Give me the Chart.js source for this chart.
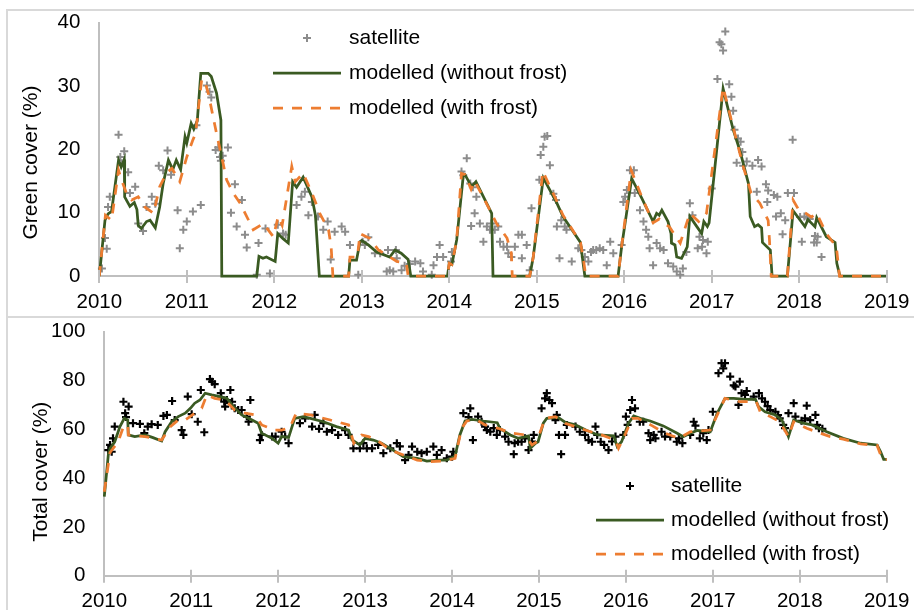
<!DOCTYPE html>
<html>
<head>
<meta charset="utf-8">
<title>Green and total cover, 2010-2019</title>
<script src="https://cdn.jsdelivr.net/npm/chart.js@4/dist/chart.umd.min.js"></script>
<style>
  html, body { margin: 0; padding: 0; background: #fff; }
  #wrap { position: relative; width: 914px; height: 610px; overflow: hidden; }
  .frame { position: absolute; border: 2px solid #d9d9d9; border-right: none; box-sizing: border-box; }
  canvas { position: absolute; left: 0; }
</style>
</head>
<body>
<div id="wrap">
  <div class="frame" style="left:6px; top:9px; width:910px; height:309px;"></div>
  <div class="frame" style="left:6px; top:316px; width:910px; height:300px;"></div>
  <canvas id="greenChart" width="914" height="316" style="top:0;"></canvas>
  <canvas id="totalChart" width="914" height="294" style="top:316px;"></canvas>
</div>
<script>
// ---------- data: [decimal year, cover %] ----------
const yearTicks = [2010, 2011, 2012, 2013, 2014, 2015, 2016, 2017, 2018, 2019];
const seriesNames = ['satellite', 'modelled (without frost)', 'modelled (with frost)'];

// Green cover, satellite observations
const greenSatellite = [
  [2010.03,1.2],[2010.065,6.0],[2010.085,4.3],[2010.10,10.9],[2010.12,12.5],
  [2010.22,22.3],[2010.24,18.8],[2010.255,17.8],[2010.285,19.7],[2010.33,16.4],[2010.35,13.1],[2010.41,14.1],
  [2010.445,8.3],[2010.50,7.1],[2010.54,10.9],[2010.60,12.5],[2010.64,11.4],
  [2010.68,17.4],[2010.73,16.7],[2010.78,19.8],[2010.82,16.0],
  [2010.895,10.4],[2010.92,4.4],[2010.96,7.3],[2011.0,8.6],[2011.07,10.2],[2011.16,11.2],
  [2011.11,23.8],[2011.23,30.1],[2011.26,29.1],[2011.28,28.2],
  [2011.33,19.9],[2011.36,20.3],[2011.38,18.8],[2011.39,18.2],[2011.41,19.0],[2011.47,20.3],
  [2011.505,10.0],[2011.55,14.5],[2011.57,7.8],[2011.63,12.0],[2011.665,6.5],[2011.685,4.5],
  [2011.80,0.2],[2011.82,5.2],[2011.90,7.5],[2011.95,0.4],[2012.04,8.1],[2012.10,6.7],[2012.13,6.5],
  [2012.255,11.2],[2012.31,12.5],[2012.35,13.3],[2012.39,9.6],[2012.43,11.7],[2012.50,9.4],[2012.56,7.3],
  [2012.61,8.6],[2012.645,2.6],[2012.69,7.0],[2012.77,7.8],[2012.81,7.0],[2012.865,4.9],
  [2012.96,0.2],[2013.01,5.4],[2013.035,4.9],[2013.075,6.1],[2013.15,3.6],[2013.21,3.6],[2013.30,4.1],
  [2013.285,0.7],[2013.32,0.9],[2013.36,0.7],[2013.40,2.8],[2013.39,4.1],[2013.455,0.9],[2013.49,1.6],
  [2013.55,1.9],[2013.61,2.3],[2013.67,2.0],[2013.70,0.7],[2013.80,0.2],[2013.82,1.7],[2013.86,3.0],
  [2013.89,4.9],[2013.93,3.0],[2014.02,2.3],[2014.03,3.8],
  [2014.14,16.5],[2014.16,15.9],[2014.20,18.6],[2014.24,14.6],[2014.27,14.0],[2014.25,7.9],[2014.29,9.9],
  [2014.31,12.5],[2014.35,8.3],[2014.39,5.4],[2014.43,7.8],[2014.465,7.3],[2014.48,8.3],[2014.52,7.3],
  [2014.56,7.8],[2014.58,5.4],[2014.62,4.6],[2014.66,4.6],[2014.675,3.6],[2014.71,3.0],[2014.75,4.6],
  [2014.79,6.5],[2014.83,6.5],[2014.83,2.8],[2014.885,4.9],[2014.92,0.9],[2014.94,10.7],
  [2015.03,15.2],[2015.045,19.1],[2015.075,20.4],[2015.09,22.0],[2015.12,22.1],[2015.15,17.5],[2015.19,13.0],
  [2015.22,12.0],[2015.23,7.8],[2015.26,2.8],[2015.28,8.8],[2015.32,7.8],[2015.34,7.3],[2015.40,2.3],
  [2015.475,4.4],[2015.51,4.1],[2015.55,3.0],[2015.59,2.3],[2015.62,3.8],[2015.645,4.1],[2015.68,4.1],
  [2015.72,4.4],[2015.76,4.1],[2015.80,1.7],[2015.84,5.4],[2015.875,3.6],[2015.97,4.9],
  [2015.99,11.7],[2016.01,12.5],[2016.03,13.6],[2016.065,16.7],[2016.11,16.7],[2016.12,13.1],[2016.18,10.4],
  [2016.22,8.6],[2016.25,7.3],[2016.275,6.2],[2016.29,4.4],[2016.33,1.7],[2016.37,5.2],[2016.41,4.4],
  [2016.45,4.1],[2016.50,2.0],[2016.56,1.5],[2016.60,0.7],[2016.64,0.2],[2016.67,1.2],[2016.71,3.8],
  [2016.75,11.5],[2016.78,9.6],[2016.84,4.4],[2016.86,6.2],[2016.89,4.6],[2016.90,5.7],[2016.94,3.6],[2016.955,5.4],
  [2017.0,13.8],[2017.065,31.1],[2017.09,36.9],[2017.11,36.6],[2017.13,35.6],[2017.155,38.6],[2017.20,30.3],
  [2017.225,28.3],[2017.245,26.1],[2017.26,23.1],[2017.30,21.7],[2017.33,21.2],[2017.35,19.6],[2017.285,17.9],
  [2017.36,17.4],[2017.40,18.1],[2017.465,17.4],[2017.53,18.3],[2017.57,17.3],[2017.515,13.3],[2017.62,14.5],
  [2017.645,13.5],[2017.635,11.7],[2017.71,12.8],[2017.75,12.5],[2017.735,9.4],[2017.79,9.9],[2017.81,6.6],
  [2017.84,8.8],[2017.87,13.1],[2017.94,13.1],[2017.925,21.5],
  [2018.01,9.3],[2018.03,5.4],[2018.06,9.4],[2018.09,9.2],[2018.12,9.0],[2018.17,5.3],[2018.18,6.3],
  [2018.21,6.2],[2018.20,5.3],[2018.255,3.0]
];

// Green cover, model without frost
const greenNoFrost = [
  [2010.0,0],[2010.065,8.8],[2010.10,9.8],[2010.14,10.2],[2010.22,18.3],[2010.25,17.2],[2010.285,18.4],
  [2010.29,12.5],[2010.35,11.0],[2010.40,11.6],[2010.43,10.5],[2010.445,8.0],[2010.48,7.5],[2010.54,8.6],
  [2010.58,8.8],[2010.64,7.6],[2010.69,10.9],[2010.73,14.6],[2010.79,18.3],[2010.84,16.8],[2010.88,18.3],
  [2010.93,16.8],[2010.98,22.0],[2011.0,21.0],[2011.05,24.1],[2011.08,23.2],[2011.12,24.5],[2011.16,32.0],
  [2011.245,32.0],[2011.28,31.5],[2011.34,28.9],[2011.39,24.6],[2011.40,0],[2011.80,0],[2011.825,3.1],
  [2011.87,2.8],[2011.91,3.0],[2012.01,2.3],[2012.04,6.7],[2012.10,5.9],[2012.16,5.2],[2012.21,14.9],
  [2012.255,14.0],[2012.33,15.6],[2012.43,12.5],[2012.47,9.6],[2012.515,0],[2012.85,0],[2012.865,2.5],
  [2012.94,2.5],[2012.98,5.4],[2013.0,5.6],[2013.075,4.9],[2013.17,3.8],[2013.32,3.0],[2013.38,4.1],
  [2013.45,3.6],[2013.53,2.6],[2013.56,0],[2013.98,0],[2014.0,2.0],[2014.03,1.8],[2014.085,5.7],
  [2014.16,15.8],[2014.18,16.0],[2014.255,14.1],[2014.305,14.9],[2014.485,9.9],[2014.50,0],[2014.92,0],
  [2014.96,3.0],[2015.075,15.5],[2015.23,11.5],[2015.30,9.4],[2015.50,5.3],[2015.53,2.0],[2015.55,0],
  [2015.93,0],[2015.97,4.6],[2016.085,15.4],[2016.20,12.3],[2016.33,8.6],[2016.37,9.9],[2016.40,9.6],
  [2016.43,10.4],[2016.50,8.6],[2016.535,6.7],[2016.54,5.2],[2016.58,4.9],[2016.60,3.0],[2016.655,2.8],
  [2016.72,4.6],[2016.75,9.4],[2016.83,7.8],[2016.885,6.7],[2016.91,8.6],[2016.95,7.8],[2016.97,8.4],
  [2017.13,29.6],[2017.245,23.1],[2017.32,19.9],[2017.42,14.6],[2017.44,9.4],[2017.49,7.8],[2017.53,8.1],
  [2017.57,7.6],[2017.58,5.3],[2017.67,4.1],[2017.69,0],[2017.865,0],[2017.93,10.3],[2018.065,7.8],
  [2018.10,8.9],[2018.18,7.8],[2018.20,9.2],[2018.31,6.2],[2018.41,5.3],[2018.43,2.0],[2018.465,0],[2019.0,0]
];

// Green cover, model with frost
const greenFrost = [
  [2010.0,0],[2010.07,9.6],[2010.14,8.8],[2010.22,16.7],[2010.25,15.3],[2010.31,13.1],[2010.37,12.0],
  [2010.445,12.5],[2010.52,10.9],[2010.62,9.9],[2010.69,14.1],[2010.77,16.3],[2010.83,17.0],[2010.92,14.9],
  [2011.0,18.8],[2011.07,21.5],[2011.10,22.5],[2011.17,31.0],[2011.20,31.0],[2011.245,28.9],[2011.30,25.2],
  [2011.34,22.5],[2011.39,19.4],[2011.455,15.2],[2011.53,13.1],[2011.61,11.5],[2011.76,7.3],[2011.875,8.3],
  [2011.99,6.2],[2012.045,9.4],[2012.09,8.0],[2012.20,17.3],[2012.24,14.9],[2012.33,16.2],[2012.43,13.1],
  [2012.52,9.9],[2012.62,7.3],[2012.65,4.6],[2012.67,0],[2012.85,0],[2012.865,3.0],[2012.95,3.0],
  [2012.98,6.7],[2013.095,5.9],[2013.19,4.1],[2013.32,3.0],[2013.40,2.3],[2013.51,2.0],[2013.53,0],
  [2013.98,0],[2014.0,2.0],[2014.03,1.8],[2014.085,5.7],[2014.14,16.2],[2014.18,16.0],[2014.25,13.7],
  [2014.29,15.0],[2014.465,10.4],[2014.54,8.3],[2014.66,6.0],[2014.71,3.6],[2014.72,0],[2014.92,0],
  [2014.96,3.0],[2015.07,16.5],[2015.23,11.8],[2015.30,9.6],[2015.50,5.3],[2015.54,2.0],[2015.56,0],
  [2015.93,0],[2015.97,4.6],[2016.08,16.7],[2016.20,12.5],[2016.33,8.4],[2016.40,9.0],[2016.52,7.7],
  [2016.64,5.2],[2016.75,9.9],[2016.85,8.6],[2016.94,9.9],[2017.13,29.8],[2017.245,23.5],[2017.36,17.3],
  [2017.45,13.1],[2017.55,11.5],[2017.645,8.8],[2017.66,5.7],[2017.68,0],[2017.865,0],[2017.93,12.0],
  [2018.0,10.3],[2018.075,9.9],[2018.14,9.3],[2018.20,9.9],[2018.31,6.7],[2018.425,4.6],[2018.46,0],[2019.0,0]
];

// Total cover, satellite observations
const totalSatellite = [
  [2010.046,51.5],[2010.066,53.6],[2010.085,50.8],[2010.10,56.3],[2010.12,61.1],
  [2010.22,71.3],[2010.24,66.6],[2010.25,65.0],[2010.28,69.3],[2010.33,62.5],[2010.41,62.2],[2010.46,58.4],
  [2010.50,61.1],[2010.545,62.1],[2010.615,61.8],[2010.68,65.5],[2010.72,65.9],[2010.78,71.6],[2010.81,63.8],
  [2010.89,59.7],[2010.91,57.7],[2010.96,73.4],[2011.005,66.2],[2011.075,63.1],[2011.11,76.1],[2011.15,58.8],
  [2011.215,80.6],[2011.24,79.5],[2011.27,78.5],[2011.34,74.8],[2011.345,73.0],[2011.38,71.3],[2011.39,69.3],
  [2011.41,72.0],[2011.45,76.1],[2011.47,71.3],[2011.50,68.6],[2011.54,67.9],[2011.58,67.9],[2011.64,65.2],
  [2011.66,63.1],[2011.68,72.0],
  [2011.79,55.6],[2011.81,57.7],[2011.93,57.0],[2011.97,57.0],[2012.04,59.0],[2012.08,57.0],[2012.12,54.3],
  [2012.25,62.5],[2012.31,64.5],[2012.42,65.9],[2012.39,61.1],[2012.47,60.2],[2012.52,62.5],[2012.56,59.0],
  [2012.62,59.7],[2012.69,57.7],[2012.77,59.7],[2012.81,57.7],[2012.865,52.2],
  [2012.94,52.2],[2012.98,54.3],[2013.02,52.2],[2013.08,52.2],[2013.15,53.6],[2013.21,50.2],[2013.29,52.2],
  [2013.365,54.3],[2013.40,53.0],[2013.46,47.4],[2013.50,49.5],[2013.54,52.9],[2013.60,50.8],[2013.65,50.2],
  [2013.71,50.8],[2013.785,52.9],[2013.825,49.5],[2013.88,51.5],[2013.94,48.1],[2014.0,48.8],[2014.015,50.8],
  [2014.13,66.6],[2014.19,65.0],[2014.21,68.6],[2014.24,55.6],[2014.30,65.2],[2014.34,63.1],[2014.38,61.1],
  [2014.40,59.7],[2014.44,59.0],[2014.48,60.5],[2014.515,57.7],[2014.55,59.7],[2014.61,57.0],[2014.65,54.9],
  [2014.71,49.8],[2014.72,54.3],[2014.76,54.9],[2014.80,54.9],[2014.84,56.3],[2014.88,51.5],[2014.92,55.0],
  [2014.94,57.7],
  [2015.03,68.6],[2015.07,72.7],[2015.09,74.8],[2015.12,72.0],[2015.15,70.7],[2015.19,63.8],[2015.205,65.9],
  [2015.23,57.7],[2015.255,49.8],[2015.30,57.7],[2015.32,61.8],[2015.42,61.1],[2015.47,59.0],[2015.53,57.7],
  [2015.57,55.6],[2015.61,54.9],[2015.65,61.1],[2015.67,57.7],[2015.71,54.9],[2015.75,53.6],[2015.80,51.5],
  [2015.84,55.0],[2015.88,57.0],
  [2015.97,57.7],[2016.0,65.2],[2016.02,61.8],[2016.05,67.9],[2016.07,72.0],[2016.105,68.6],[2016.16,63.1],
  [2016.20,63.1],[2016.26,58.4],[2016.28,55.6],[2016.32,57.7],[2016.34,56.3],[2016.41,59.0],[2016.45,57.0],
  [2016.51,57.0],[2016.585,54.9],[2016.61,56.3],[2016.65,54.3],[2016.74,57.7],[2016.78,63.1],[2016.80,61.5],
  [2016.85,56.3],[2016.89,58.4],[2016.93,55.6],[2016.95,59.7],
  [2017.0,67.2],[2017.065,83.0],[2017.10,87.1],[2017.12,85.0],[2017.14,87.1],[2017.20,81.6],[2017.24,78.0],
  [2017.26,77.5],[2017.31,79.5],[2017.33,74.8],[2017.295,70.0],[2017.37,74.1],[2017.39,75.7],[2017.47,73.4],
  [2017.53,74.8],[2017.565,72.7],[2017.60,71.3],[2017.63,69.5],[2017.66,67.9],[2017.72,67.2],[2017.75,65.8],
  [2017.77,64.5],[2017.81,61.8],[2017.83,60.5],[2017.87,66.6],[2017.93,70.7],[2017.95,65.2],[2018.02,63.5],
  [2018.06,64.5],[2018.08,69.7],[2018.12,63.8],[2018.18,65.9],[2018.20,61.8],[2018.22,60.4],[2018.26,60.2]
];

// Total cover, model without frost
const totalNoFrost = [
  [2010.0,32.4],[2010.046,49.5],[2010.066,52.2],[2010.12,54.9],[2010.18,61.1],[2010.23,64.5],[2010.27,63.8],
  [2010.276,57.7],[2010.35,57.0],[2010.47,57.7],[2010.56,56.6],[2010.66,55.2],[2010.70,59.0],[2010.775,63.1],
  [2010.85,65.2],[2010.93,66.6],[2010.99,68.6],[2011.04,70.7],[2011.10,72.0],[2011.16,74.8],[2011.235,74.1],
  [2011.33,73.4],[2011.41,72.7],[2011.47,70.0],[2011.58,65.9],[2011.70,63.8],[2011.77,62.5],[2011.81,58.4],
  [2011.93,56.3],[2012.0,54.3],[2012.04,57.0],[2012.12,56.6],[2012.19,64.5],[2012.29,65.2],[2012.37,64.5],
  [2012.52,63.1],[2012.67,61.1],[2012.81,59.7],[2012.85,55.6],[2012.94,53.6],[2013.0,56.3],[2013.095,55.6],
  [2013.19,54.3],[2013.29,52.2],[2013.44,48.8],[2013.60,48.1],[2013.71,47.0],[2013.825,47.4],[2013.94,47.4],
  [2014.035,49.0],[2014.09,57.7],[2014.15,63.4],[2014.23,64.1],[2014.36,63.4],[2014.52,62.7],[2014.55,60.4],
  [2014.67,57.7],[2014.76,56.3],[2014.88,57.3],[2014.90,52.2],[2014.96,54.3],[2014.99,54.9],[2015.05,62.5],
  [2015.09,64.5],[2015.22,64.9],[2015.30,62.9],[2015.42,61.8],[2015.55,59.5],[2015.68,57.7],[2015.86,57.3],
  [2015.90,52.9],[2015.95,54.9],[2016.03,62.5],[2016.09,65.5],[2016.165,64.5],[2016.28,63.4],[2016.43,61.4],
  [2016.59,58.4],[2016.66,57.0],[2016.74,58.4],[2016.82,59.5],[2016.97,59.0],[2017.05,66.6],[2017.14,72.7],
  [2017.24,72.7],[2017.37,72.3],[2017.49,72.3],[2017.525,69.3],[2017.60,67.2],[2017.72,65.9],[2017.795,63.8],
  [2017.87,57.0],[2017.93,63.8],[2018.04,62.5],[2018.14,61.8],[2018.31,59.0],[2018.50,56.3],[2018.70,54.3],
  [2018.89,53.6],[2018.93,50.8],[2018.965,47.7],[2019.0,47.7]
];

// Total cover, model with frost
const totalFrost = [
  [2010.0,34.4],[2010.066,50.5],[2010.16,54.9],[2010.22,61.1],[2010.27,61.8],[2010.276,57.7],[2010.47,57.0],
  [2010.66,55.6],[2010.76,61.1],[2010.85,63.8],[2010.93,63.8],[2011.04,66.6],[2011.12,68.6],[2011.18,74.1],
  [2011.27,72.7],[2011.39,72.0],[2011.50,67.9],[2011.62,66.6],[2011.73,65.9],[2011.81,61.8],[2011.96,59.7],
  [2012.04,59.7],[2012.135,60.7],[2012.19,65.2],[2012.21,66.6],[2012.37,65.9],[2012.60,63.8],[2012.81,61.8],
  [2012.87,54.3],[2012.96,57.7],[2013.04,57.0],[2013.135,55.6],[2013.29,51.5],[2013.44,49.5],[2013.60,47.4],
  [2013.75,46.7],[2013.90,47.0],[2014.035,48.1],[2014.11,60.4],[2014.17,63.4],[2014.285,63.8],[2014.38,61.8],
  [2014.53,60.4],[2014.69,58.4],[2014.84,57.7],[2014.92,53.6],[2014.975,54.9],[2015.07,64.5],[2015.19,65.2],
  [2015.30,62.5],[2015.53,59.7],[2015.72,57.7],[2015.88,55.6],[2015.915,52.2],[2015.99,57.7],[2016.07,64.5],
  [2016.14,64.5],[2016.30,61.5],[2016.45,58.4],[2016.61,56.3],[2016.74,59.0],[2016.97,59.7],[2017.14,72.7],
  [2017.31,71.3],[2017.50,71.3],[2017.545,67.2],[2017.66,65.2],[2017.77,63.1],[2017.87,57.0],[2017.93,63.1],
  [2018.08,60.4],[2018.35,57.0],[2018.50,56.0],[2018.70,54.0],[2018.81,53.6],[2018.89,53.4],[2018.93,49.5],
  [2018.965,47.4],[2019.0,47.7]
];

// ---------- styling ----------
const FONT = '"Liberation Sans", Arial, sans-serif';
const AXIS = '#bfbfbf';
const GREEN = '#3a5a22';
const ORANGE = '#ed7d31';
const toXY = pts => pts.map(p => ({ x: p[0], y: p[1] }));

// Tick marks that cross the x axis, at each labelled year
const crossTicks = {
  id: 'crossTicks',
  afterDraw(chart) {
    const { ctx, chartArea } = chart;
    const xs = chart.scales.x;
    ctx.save();
    ctx.strokeStyle = AXIS;
    ctx.lineWidth = 2;
    xs.ticks.forEach(t => {
      const px = Math.round(xs.getPixelForValue(t.value));
      ctx.beginPath();
      ctx.moveTo(px, chartArea.bottom - 6);
      ctx.lineTo(px, chartArea.bottom + 7);
      ctx.stroke();
    });
    ctx.restore();
  }
};

// Axis title and in-plot legend for one panel
function panelDecor(cfg) {
  return {
    id: 'panelDecor',
    afterDraw(chart) {
      const ctx = chart.ctx;
      ctx.save();
      ctx.fillStyle = '#000';
      ctx.font = '21px ' + FONT;
      ctx.textBaseline = 'middle';
      // y-axis title
      ctx.save();
      ctx.translate(cfg.titleX, cfg.titleY);
      ctx.rotate(-Math.PI / 2);
      ctx.textAlign = 'center';
      ctx.fillText(cfg.title, 0, 0);
      ctx.restore();
      // legend
      const L = cfg.legend;
      ctx.textAlign = 'left';
      // satellite marker
      const mx = (L.x0 + L.x1) / 2;
      ctx.strokeStyle = cfg.satColor;
      ctx.lineWidth = 2;
      ctx.beginPath();
      ctx.moveTo(mx - 4, L.y); ctx.lineTo(mx + 4, L.y);
      ctx.moveTo(mx, L.y - 4); ctx.lineTo(mx, L.y + 4);
      ctx.stroke();
      ctx.fillText(seriesNames[0], L.tx, L.y);
      // without frost
      ctx.strokeStyle = GREEN;
      ctx.lineWidth = 2.75;
      ctx.beginPath();
      ctx.moveTo(L.x0, L.y + L.dy); ctx.lineTo(L.x1, L.y + L.dy);
      ctx.stroke();
      ctx.fillText(seriesNames[1], L.tx, L.y + L.dy);
      // with frost
      ctx.strokeStyle = ORANGE;
      ctx.setLineDash([10, 9]);
      ctx.beginPath();
      ctx.moveTo(L.x0, L.y + 2 * L.dy); ctx.lineTo(L.x1, L.y + 2 * L.dy);
      ctx.stroke();
      ctx.setLineDash([]);
      ctx.fillText(seriesNames[2], L.tx, L.y + 2 * L.dy);
      ctx.restore();
    }
  };
}

function makePanel(canvasId, opts) {
  return new Chart(document.getElementById(canvasId), {
    type: 'scatter',
    data: {
      datasets: [
        {
          label: seriesNames[2], data: toXY(opts.frost), showLine: true,
          borderColor: ORANGE, borderWidth: 2.75, borderDash: [10, 9],
          pointRadius: 0, tension: 0, clip: false
        },
        {
          label: seriesNames[1], data: toXY(opts.noFrost), showLine: true,
          borderColor: GREEN, borderWidth: 2.75,
          pointRadius: 0, tension: 0, clip: false
        },
        {
          label: seriesNames[0], data: toXY(opts.satellite), showLine: false,
          pointStyle: 'cross', pointRadius: 4, pointBorderWidth: opts.satWidth,
          borderColor: opts.satColor, backgroundColor: opts.satColor, clip: false
        }
      ]
    },
    options: {
      responsive: false,
      animation: false,
      events: [],
      layout: { padding: opts.padding, autoPadding: false },
      plugins: { legend: { display: false }, tooltip: { enabled: false } },
      scales: {
        x: {
          type: 'linear', min: yearTicks[0], max: yearTicks[yearTicks.length - 1],
          afterBuildTicks: s => { s.ticks = yearTicks.map(v => ({ value: v })); },
          ticks: {
            callback: v => String(v), color: '#000', maxRotation: 0, autoSkip: false,
            font: { family: FONT, size: 20.5 }, padding: 0
          },
          grid: { display: false, drawTicks: true, tickLength: opts.xLabelPad },
          border: { display: true, color: AXIS, width: 2 },
          afterFit: s => { s.height = opts.xHeight; }
        },
        y: {
          min: opts.yMin, max: opts.yMax,
          ticks: { stepSize: opts.yStep, color: '#000', font: { family: FONT, size: 20.5 }, padding: 0 },
          grid: { display: false, drawTicks: true, tickLength: 19 },
          border: { display: true, color: AXIS, width: 2 },
          afterFit: s => { s.width = opts.yWidth; }
        }
      }
    },
    plugins: [crossTicks, panelDecor(opts.decor)]
  });
}

// Upper panel: green cover
makePanel('greenChart', {
  satellite: greenSatellite, noFrost: greenNoFrost, frost: greenFrost,
  satColor: '#8c8c8c', satWidth: 2,
  padding: { left: 0, right: 27.3, top: 22.7, bottom: 0 },
  xHeight: 40, yWidth: 99.3, xLabelPad: 14,
  yMin: 0, yMax: 40, yStep: 10,
  decor: {
    title: 'Green cover (%)', titleX: 31, titleY: 162.5,
    satColor: '#8c8c8c',
    legend: { x0: 273, x1: 341, tx: 349, y: 38, dy: 35 }
  }
});

// Lower panel: total cover
makePanel('totalChart', {
  satellite: totalSatellite, noFrost: totalNoFrost, frost: totalFrost,
  satColor: '#000000', satWidth: 2.2,
  padding: { left: 0, right: 27.3, top: 15.7, bottom: 0 },
  xHeight: 34.3, yWidth: 104.3, xLabelPad: 13,
  yMin: 0, yMax: 100, yStep: 20,
  decor: {
    title: 'Total cover (%)', titleX: 41, titleY: 155.7,
    satColor: '#000000',
    legend: { x0: 596, x1: 664, tx: 671, y: 170, dy: 34 }
  }
});
</script>
</body>
</html>
